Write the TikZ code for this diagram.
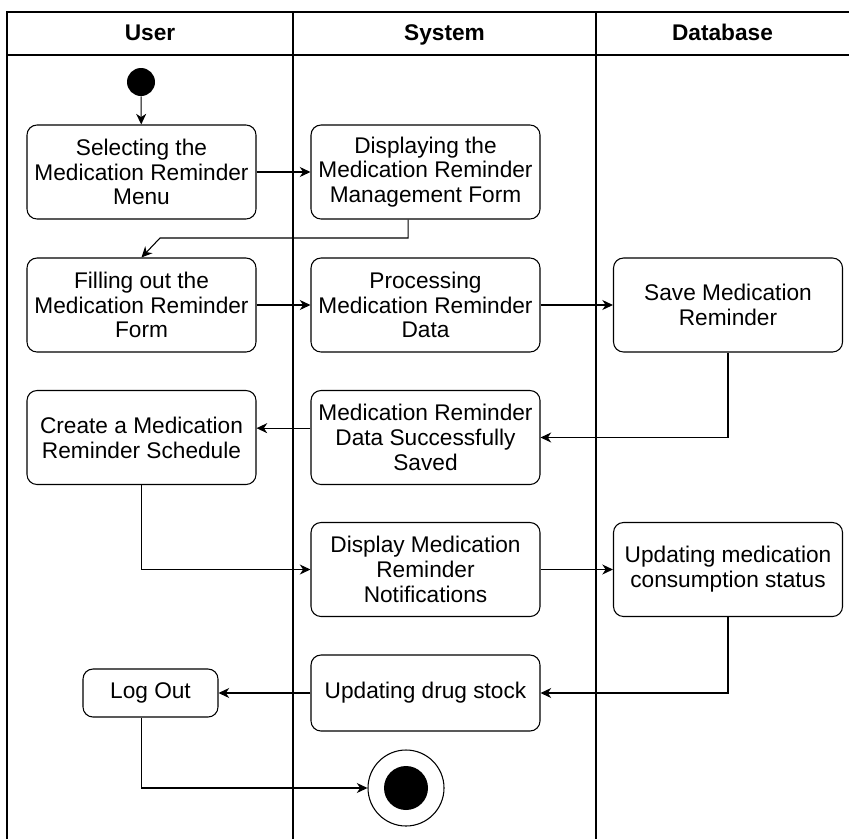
\documentclass[tikz,border=0pt]{standalone}
\usepackage{fontspec}
\setmainfont{Liberation Sans}
\usetikzlibrary{arrows.meta}

\begin{document}
\begin{tikzpicture}[x=0.75pt,y=-0.75pt,
    act/.style={draw,rounded corners=7.5pt,line width=0.8pt,align=center,
      minimum width=171.75pt,minimum height=70.5pt,inner sep=0pt,
      font=\fontsize{17}{18.6}\selectfont},
    flow/.style={-{Stealth[length=8pt,width=7.5pt,inset=2.5pt]},line width=0.8pt},
    lane/.style={line width=1.1pt},
    lanehead/.style={font=\bfseries\fontsize{17}{20}\selectfont,
      text height=12.5pt,text depth=3.5pt}]
    \useasboundingbox (0,0) rectangle (849,839);
    % swimlanes
    \draw[lane] (7,839) -- (7,12) -- (849,12);
    \draw[lane] (7,55) -- (849,55);
    \draw[lane] (293,12) -- (293,839);
    \draw[lane] (596,12) -- (596,839);
    \node[lanehead] (hUser) at (150,34) {User};
    \node[lanehead] (hSystem) at (444.5,34) {System};
    \node[lanehead] (hDatabase) at (722.5,34) {Database};
    % activities
    \node[circle,fill,minimum size=21pt,inner sep=0pt] (start) at (141,82) {};
    \node[act] (sel) at (141.5,172) {Selecting the\\Medication Reminder\\Menu};
    \node[act] (disp) at (425.5,172) {Displaying the\\Medication Reminder\\Management Form};
    \node[act] (fill) at (141.5,305) {Filling out the\\Medication Reminder\\Form};
    \node[act] (proc) at (425.5,305) {Processing\\Medication Reminder\\Data};
    \node[act] (save) at (728,305) {Save Medication\\Reminder};
    \node[act] (sched) at (141.5,437.5) {Create a Medication\\Reminder Schedule};
    \node[act] (saved) at (425.5,437.5) {Medication Reminder\\Data Successfully\\Saved};
    \node[act] (notif) at (425.5,569.5) {Display Medication\\Reminder\\Notifications};
    \node[act] (status) at (728,569.5) {Updating medication\\consumption status};
    \node[act,minimum height=57pt] (stock) at (425.5,693) {Updating drug stock};
    \node[act,minimum width=101.25pt,minimum height=36pt] (logout) at (150.5,693) {Log Out};
    \node[circle,draw,line width=0.8pt,minimum size=57pt,inner sep=0pt] (end) at (406,788) {};
    \node[circle,fill,minimum size=33pt,inner sep=0pt] (endDot) at (end) {};
    % flows
    \draw[flow] (start) -- (sel);
    \draw[flow] (sel) -- (disp);
    \draw[flow] ([xshift=-13pt]disp.south) |- (160,238) -- (fill.north);
    \draw[flow] (fill) -- (proc);
    \draw[flow] (proc) -- (save);
    \draw[flow] (save.south) |- (saved.east);
    \draw[flow] ([yshift=7pt]saved.west) -- ([yshift=7pt]sched.east);
    \draw[flow] (sched.south) |- (notif.west);
    \draw[flow] (notif) -- (status);
    \draw[flow] (status.south) |- (stock.east);
    \draw[flow] (stock) -- (logout);
    \draw[flow] ([xshift=-7pt]logout.south) |- (end.west);
\end{tikzpicture}
\end{document}
